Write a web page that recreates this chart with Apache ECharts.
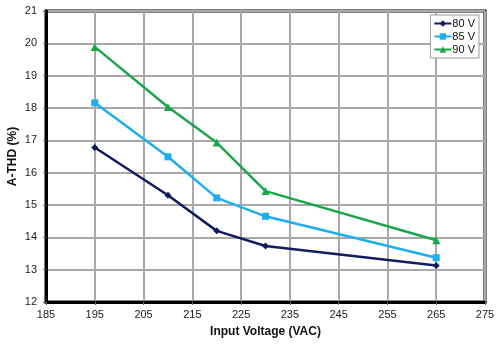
<!DOCTYPE html>
<html><head><meta charset="utf-8">
<script src="https://cdn.jsdelivr.net/npm/echarts@6/dist/echarts.min.js"></script>
<style>html,body{margin:0;padding:0;background:#fff}#c{width:500px;height:346px}</style>
</head><body><div id="c"></div>
<script>
const xValues = [195, 210, 220, 230, 265];
const seriesNames = ['80 V', '85 V', '90 V'];
const v80 = [16.78, 15.3, 14.2, 13.73, 13.13];
const v85 = [18.16, 16.49, 15.22, 14.65, 13.37];
const v90 = [19.89, 18.03, 16.93, 15.43, 13.91];
const colors = ['#101c5e', '#1eaeee', '#1aa64b'];
const symbols = ['diamond', 'rect', 'triangle'];
const symbolSizes = [7, 7, 8];
const all = [v80, v85, v90];

const chart = echarts.init(document.getElementById('c'));
const font = 'Liberation Sans, Arial, sans-serif';
chart.setOption({
  animation: false,
  textStyle: {fontFamily: font},
  grid: {left: 46, top: 11, right: 15, bottom: 44, outerBoundsMode: 'none', containLabel: false,
    show: true, borderColor: '#000', borderWidth: 3, backgroundColor: 'transparent'},
  legend: {
    orient: 'vertical', right: 21, top: 15,
    data: seriesNames,
    backgroundColor: '#fff', borderColor: '#999', borderWidth: 1,
    padding: [3, 4, 3, 3], itemGap: 2, itemWidth: 17, itemHeight: 8,
    textStyle: {fontSize: 11, color: '#111', fontFamily: font, padding: [0, 0, 0, -4]}
  },
  xAxis: {
    type: 'value', min: 185, max: 275, interval: 10,
    name: 'Input Voltage (VAC)', nameLocation: 'middle', nameGap: 24, nameMoveOverlap: false,
    nameTextStyle: {fontSize: 12, fontWeight: 'bold', color: '#111'},
    axisLine: {lineStyle: {color: '#000', width: 3}},
    axisTick: {show: true, length: 3, lineStyle: {color: '#666'}},
    axisLabel: {fontSize: 11, color: '#222', margin: 7},
    splitLine: {show: true, lineStyle: {color: '#a8a8a8', width: 2}}
  },
  yAxis: {
    type: 'value', min: 12, max: 21, interval: 1,
    name: 'A-THD (%)', nameLocation: 'middle', nameGap: 27, nameMoveOverlap: false,
    nameTextStyle: {fontSize: 12, fontWeight: 'bold', color: '#111'},
    axisLine: {lineStyle: {color: '#000', width: 3}},
    axisTick: {show: true, length: 3, lineStyle: {color: '#666'}},
    axisLabel: {fontSize: 11, color: '#222', margin: 9},
    splitLine: {show: true, lineStyle: {color: '#a8a8a8', width: 2}}
  },
  series: seriesNames.map((n, i) => ({
    name: n, type: 'line',
    data: xValues.map((x, j) => [x, all[i][j]]),
    symbol: symbols[i], symbolSize: symbolSizes[i],
    lineStyle: {color: colors[i], width: 2.5},
    itemStyle: {color: colors[i]}
  }))
});
</script></body></html>
